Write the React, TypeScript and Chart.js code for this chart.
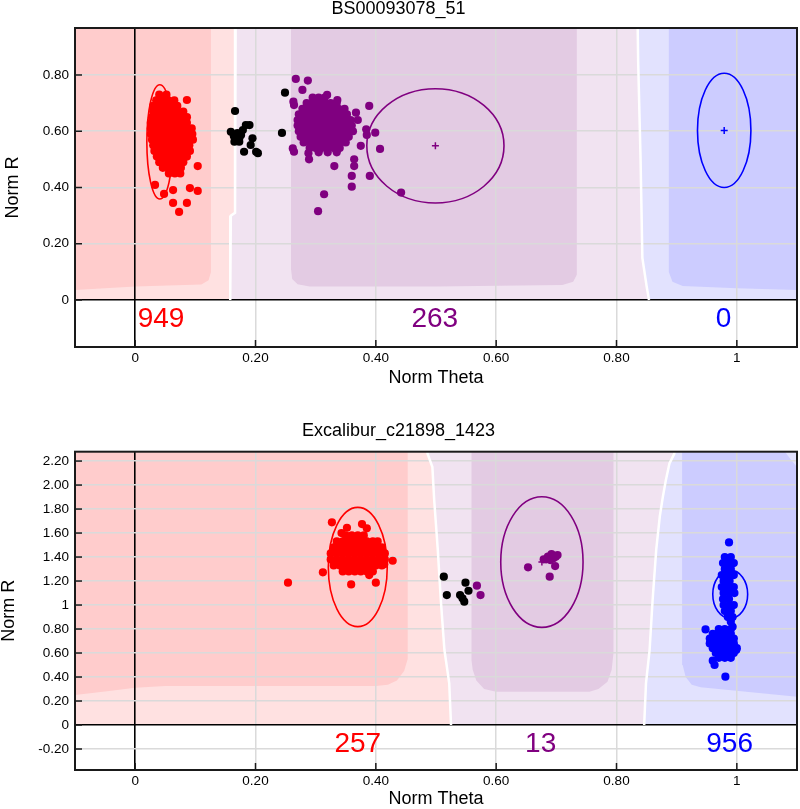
import React, { useEffect, useRef } from 'react';
import { Chart, registerables } from 'chart.js';

Chart.register(...registerables);

const FONT = "'Liberation Sans', Arial, Helvetica, sans-serif";
type P = [number, number];

// ---------- axes ----------
const X_TICKS = [0, 0.2, 0.4, 0.6, 0.8, 1];
const X_TICK_LABELS = ['0', '0.20', '0.40', '0.60', '0.80', '1'];
const TOP_Y_TICKS = [0, 0.2, 0.4, 0.6, 0.8];
const TOP_Y_TICK_LABELS = ['0', '0.20', '0.40', '0.60', '0.80'];
const BOT_Y_TICKS = [-0.2, 0, 0.2, 0.4, 0.6, 0.8, 1, 1.2, 1.4, 1.6, 1.8, 2.0, 2.2];
const BOT_Y_TICK_LABELS = ['-0.20', '0', '0.20', '0.40', '0.60', '0.80', '1', '1.20', '1.40', '1.60', '1.80', '2.00', '2.20'];

const CLUSTER_COLORS = ['#ff0000', '#800080', '#0000ff'];

// ---------- top panel: BS00093078_51 ----------
const TOP_TITLE = 'BS00093078_51';
const TOP_CLUSTER_X = [0.041, 0.499, 0.979];
const TOP_CLUSTER_Y = [0.562, 0.548, 0.603];
const TOP_CLUSTER_RX = [0.0216, 0.114, 0.0444];
const TOP_CLUSTER_RY = [0.203, 0.203, 0.203];
const TOP_COUNTS = [949, 263, 0];
const TOP_COUNT_X = [0.043, 0.498, 0.978];
const TOP_COUNT_Y = -0.07;

const TOP_RED: P[] = [
  [0.040, 0.73], [0.052, 0.73],
  [0.035, 0.71], [0.045, 0.71], [0.055, 0.71], [0.065, 0.71], [0.086, 0.711],
  [0.030, 0.69], [0.040, 0.69], [0.050, 0.69], [0.060, 0.69], [0.070, 0.69],
  [0.030, 0.67], [0.040, 0.67], [0.050, 0.67], [0.060, 0.67], [0.070, 0.67], [0.080, 0.67],
  [0.028, 0.65], [0.038, 0.65], [0.048, 0.65], [0.058, 0.65], [0.068, 0.65], [0.078, 0.65], [0.086, 0.65],
  [0.026, 0.63], [0.036, 0.63], [0.046, 0.63], [0.056, 0.63], [0.066, 0.63], [0.076, 0.63], [0.086, 0.63],
  [0.026, 0.61], [0.036, 0.61], [0.046, 0.61], [0.056, 0.61], [0.066, 0.61], [0.076, 0.61], [0.086, 0.61], [0.094, 0.61],
  [0.026, 0.59], [0.036, 0.59], [0.046, 0.59], [0.056, 0.59], [0.066, 0.59], [0.076, 0.59], [0.086, 0.59], [0.095, 0.59],
  [0.028, 0.57], [0.038, 0.57], [0.048, 0.57], [0.058, 0.57], [0.068, 0.57], [0.078, 0.57], [0.088, 0.57], [0.096, 0.57],
  [0.030, 0.55], [0.040, 0.55], [0.050, 0.55], [0.060, 0.55], [0.070, 0.55], [0.080, 0.55], [0.090, 0.55],
  [0.032, 0.53], [0.042, 0.53], [0.052, 0.53], [0.062, 0.53], [0.072, 0.53], [0.082, 0.53], [0.091, 0.53],
  [0.036, 0.51], [0.046, 0.51], [0.056, 0.51], [0.066, 0.51], [0.076, 0.51], [0.086, 0.51],
  [0.040, 0.49], [0.050, 0.49], [0.060, 0.49], [0.070, 0.49], [0.080, 0.49],
  [0.046, 0.47], [0.056, 0.47], [0.066, 0.47], [0.076, 0.47],
  [0.056, 0.45], [0.066, 0.45], [0.075, 0.45],
  [0.104, 0.476], [0.033, 0.409], [0.048, 0.377], [0.063, 0.391], [0.091, 0.398],
  [0.104, 0.388], [0.063, 0.345], [0.086, 0.345], [0.073, 0.313],
];

const TOP_BLACK: P[] = [
  [0.166, 0.672], [0.249, 0.737], [0.244, 0.594], [0.159, 0.598], [0.164, 0.583],
  [0.170, 0.593], [0.167, 0.569], [0.173, 0.575], [0.179, 0.604], [0.184, 0.622],
  [0.190, 0.622], [0.176, 0.587], [0.195, 0.575], [0.192, 0.551], [0.181, 0.527],
  [0.201, 0.527], [0.204, 0.522], [0.165, 0.563], [0.173, 0.563],
];

const TOP_PURPLE: P[] = [
  [0.295, 0.72], [0.305, 0.72], [0.315, 0.72],
  [0.285, 0.70], [0.295, 0.70], [0.305, 0.70], [0.315, 0.70], [0.325, 0.70], [0.335, 0.70],
  [0.278, 0.68], [0.288, 0.68], [0.298, 0.68], [0.308, 0.68], [0.318, 0.68], [0.328, 0.68], [0.338, 0.68], [0.348, 0.68],
  [0.272, 0.66], [0.282, 0.66], [0.292, 0.66], [0.302, 0.66], [0.312, 0.66], [0.322, 0.66], [0.332, 0.66], [0.342, 0.66], [0.352, 0.66],
  [0.270, 0.64], [0.280, 0.64], [0.290, 0.64], [0.300, 0.64], [0.310, 0.64], [0.320, 0.64], [0.330, 0.64], [0.340, 0.64], [0.350, 0.64], [0.358, 0.64],
  [0.270, 0.62], [0.280, 0.62], [0.290, 0.62], [0.300, 0.62], [0.310, 0.62], [0.320, 0.62], [0.330, 0.62], [0.340, 0.62], [0.350, 0.62], [0.360, 0.62],
  [0.272, 0.60], [0.282, 0.60], [0.292, 0.60], [0.302, 0.60], [0.312, 0.60], [0.322, 0.60], [0.332, 0.60], [0.342, 0.60], [0.352, 0.60], [0.362, 0.60],
  [0.275, 0.58], [0.285, 0.58], [0.295, 0.58], [0.305, 0.58], [0.315, 0.58], [0.325, 0.58], [0.335, 0.58], [0.345, 0.58], [0.355, 0.58],
  [0.280, 0.56], [0.290, 0.56], [0.300, 0.56], [0.310, 0.56], [0.320, 0.56], [0.330, 0.56], [0.340, 0.56], [0.350, 0.56],
  [0.290, 0.54], [0.300, 0.54], [0.310, 0.54], [0.320, 0.54], [0.330, 0.54], [0.340, 0.54],
  [0.305, 0.525], [0.320, 0.525], [0.335, 0.525],
  [0.267, 0.786], [0.287, 0.780], [0.278, 0.747], [0.263, 0.705], [0.264, 0.693],
  [0.319, 0.729], [0.336, 0.711], [0.389, 0.690], [0.367, 0.666], [0.370, 0.640],
  [0.384, 0.607], [0.399, 0.595], [0.385, 0.587], [0.407, 0.537], [0.375, 0.548],
  [0.262, 0.539], [0.264, 0.527], [0.288, 0.522], [0.289, 0.500], [0.331, 0.476],
  [0.364, 0.500], [0.364, 0.476], [0.360, 0.441], [0.390, 0.441], [0.360, 0.403],
  [0.314, 0.376], [0.304, 0.316], [0.442, 0.382],
];

const TOP_BLUE: P[] = [];

// background regions (Norm Theta, Norm R)
const TOP_B1: P[] = [[0.167, 1.0], [0.166, 0.31], [0.159, 0.30], [0.158, 0]];
const TOP_B2: P[] = [[0.835, 1.0], [0.836, 0.85], [0.840, 0.50], [0.843, 0.15], [0.850, 0.05], [0.854, 0]];
const TOP_LIGHT_PINK: P[] = [[-0.1, 0], [0.158, 0], [0.159, 0.30], [0.166, 0.31], [0.167, 1.0], [-0.1, 1.0]];
const TOP_LAVENDER: P[] = [
  [0.158, 0], [0.854, 0], [0.850, 0.05], [0.843, 0.15], [0.840, 0.50], [0.836, 0.85], [0.835, 1.0],
  [0.167, 1.0], [0.166, 0.31], [0.159, 0.30],
];
const TOP_LIGHT_BLUE: P[] = [
  [0.854, 0], [1.1, 0], [1.1, 1.0], [0.835, 1.0], [0.836, 0.85], [0.840, 0.50], [0.843, 0.15], [0.850, 0.05],
];
const TOP_DARK_PINK: P[] = [
  [-0.1, 1.0], [0.126, 1.0], [0.126, 0.10], [0.122, 0.07], [0.11, 0.055], [0.0, 0.048], [-0.1, 0.036],
];
const TOP_DARK_PURPLE: P[] = [
  [0.259, 1.0], [0.734, 1.0], [0.734, 0.09], [0.728, 0.065], [0.71, 0.053], [0.50, 0.048],
  [0.29, 0.048], [0.27, 0.056], [0.261, 0.075], [0.259, 0.11],
];
const TOP_DARK_BLUE: P[] = [
  [0.887, 1.0], [1.1, 1.0], [1.1, 0.036], [1.0, 0.042], [0.91, 0.05], [0.893, 0.065], [0.887, 0.10],
];

// ---------- bottom panel: Excalibur_c21898_1423 ----------
const BOT_TITLE = 'Excalibur_c21898_1423';
const BOT_CLUSTER_X = [0.370, 0.676, 0.989];
const BOT_CLUSTER_Y = [1.317, 1.358, 1.090];
const BOT_CLUSTER_RX = [0.049, 0.0684, 0.029];
const BOT_CLUSTER_RY = [0.497, 0.544, 0.201];
const BOT_COUNTS = [257, 13, 956];
const BOT_COUNT_X = [0.370, 0.674, 0.988];
const BOT_COUNT_Y = -0.16;

const BOT_RED: P[] = [
  [0.350, 1.58], [0.360, 1.58], [0.370, 1.58], [0.380, 1.58],
  [0.335, 1.53], [0.345, 1.53], [0.355, 1.53], [0.365, 1.53], [0.375, 1.53], [0.385, 1.53], [0.395, 1.53], [0.403, 1.53],
  [0.330, 1.48], [0.340, 1.48], [0.350, 1.48], [0.360, 1.48], [0.370, 1.48], [0.380, 1.48], [0.390, 1.48], [0.400, 1.48], [0.410, 1.48],
  [0.325, 1.43], [0.335, 1.43], [0.345, 1.43], [0.355, 1.43], [0.365, 1.43], [0.375, 1.43], [0.385, 1.43], [0.395, 1.43], [0.405, 1.43], [0.415, 1.43],
  [0.325, 1.38], [0.335, 1.38], [0.345, 1.38], [0.355, 1.38], [0.365, 1.38], [0.375, 1.38], [0.385, 1.38], [0.395, 1.38], [0.405, 1.38], [0.415, 1.38],
  [0.330, 1.33], [0.340, 1.33], [0.350, 1.33], [0.360, 1.33], [0.370, 1.33], [0.380, 1.33], [0.390, 1.33], [0.400, 1.33], [0.410, 1.33],
  [0.345, 1.28], [0.355, 1.28], [0.365, 1.28], [0.375, 1.28], [0.385, 1.28], [0.395, 1.28],
  [0.254, 1.186], [0.312, 1.273], [0.327, 1.689], [0.359, 1.172], [0.400, 1.186],
  [0.428, 1.369], [0.389, 1.25], [0.352, 1.644], [0.377, 1.675], [0.385, 1.639], [0.343, 1.60], [0.414, 1.34],
];

const BOT_BLACK: P[] = [
  [0.513, 1.236], [0.518, 1.083], [0.549, 1.186], [0.554, 1.119], [0.540, 1.083], [0.547, 1.028], [0.544, 1.056],
];

const BOT_PURPLE: P[] = [
  [0.568, 1.161], [0.574, 1.083], [0.653, 1.314], [0.679, 1.381], [0.686, 1.403], [0.692, 1.425],
  [0.699, 1.403], [0.702, 1.417], [0.698, 1.325], [0.689, 1.236], [0.683, 1.381], [0.690, 1.375], [0.695, 1.39],
];

const BOT_BLUE: P[] = [
  [0.980, 1.40], [0.990, 1.40],
  [0.977, 1.35], [0.987, 1.35], [0.995, 1.35],
  [0.980, 1.30], [0.990, 1.30],
  [0.975, 1.25], [0.985, 1.25], [0.995, 1.25],
  [0.978, 1.20], [0.988, 1.20],
  [0.975, 1.15], [0.985, 1.15], [0.995, 1.15],
  [0.978, 1.10], [0.988, 1.10], [0.996, 1.10],
  [0.977, 1.05], [0.987, 1.05],
  [0.978, 1.00], [0.988, 1.00], [0.995, 1.00],
  [0.980, 0.95], [0.990, 0.95],
  [0.985, 0.90], [0.993, 0.90], [0.990, 0.86],
  [0.970, 0.80], [0.980, 0.80], [0.990, 0.80],
  [0.960, 0.76], [0.970, 0.76], [0.980, 0.76], [0.990, 0.76],
  [0.955, 0.72], [0.965, 0.72], [0.975, 0.72], [0.985, 0.72], [0.995, 0.72],
  [0.955, 0.68], [0.965, 0.68], [0.975, 0.68], [0.985, 0.68], [0.995, 0.68],
  [0.960, 0.64], [0.970, 0.64], [0.980, 0.64], [0.990, 0.64], [1.000, 0.64],
  [0.965, 0.60], [0.975, 0.60], [0.985, 0.60], [0.995, 0.60],
  [0.970, 0.56], [0.980, 0.56], [0.990, 0.56],
  [0.987, 1.522], [0.948, 0.797], [0.960, 0.536], [0.963, 0.50], [0.981, 0.403], [0.993, 0.819], [0.999, 0.625],
];

const BOT_C1: P[] = [
  [0.484, 2.5], [0.486, 2.26], [0.494, 2.15], [0.497, 1.875], [0.503, 1.458], [0.508, 1.042], [0.514, 0.625], [0.522, 0.347], [0.525, 0],
];
const BOT_C2: P[] = [
  [0.90, 2.5], [0.896, 2.26], [0.888, 2.18], [0.882, 2.04], [0.877, 1.90], [0.872, 1.74], [0.866, 1.46],
  [0.860, 1.04], [0.855, 0.625], [0.849, 0.347], [0.846, 0],
];
const BOT_LIGHT_PINK: P[] = [[-0.1, 0], ...[...BOT_C1].reverse(), [-0.1, 2.5]];
const BOT_LAVENDER: P[] = [...BOT_C1, ...[...BOT_C2].reverse()];
const BOT_LIGHT_BLUE: P[] = [...BOT_C2, [1.1, 0], [1.1, 2.5]];
const BOT_DARK_PINK: P[] = [
  [-0.1, 2.5], [0.453, 2.5], [0.453, 0.55], [0.447, 0.45], [0.435, 0.37], [0.42, 0.335], [0.40, 0.325],
  [0.05, 0.325], [0.0, 0.31], [-0.05, 0.28], [-0.1, 0.25],
];
const BOT_DARK_PURPLE: P[] = [
  [0.559, 2.5], [0.795, 2.5], [0.795, 0.60], [0.792, 0.46], [0.785, 0.36], [0.77, 0.30], [0.755, 0.278],
  [0.60, 0.278], [0.58, 0.30], [0.567, 0.37], [0.561, 0.46], [0.559, 0.54],
];
const BOT_DARK_BLUE: P[] = [
  [0.909, 2.5], [1.078, 2.5], [1.078, 2.29], [1.09, 2.21], [1.1, 2.15], [1.1, 0.236], [0.94, 0.315],
  [0.925, 0.335], [0.915, 0.40], [0.91, 0.50], [0.909, 0.65],
];

const BG = {
  lightPink: '#ffe1e1',
  darkPink: '#ffcccc',
  lavender: '#f1e3f1',
  darkPurple: '#e3cbe3',
  lightBlue: '#e2e2fe',
  darkBlue: '#ccccff',
};

interface PanelSpec {
  title: string;
  titlePad: { top: number; bottom: number };
  yMin: number;
  yMax: number;
  yTicks: number[];
  yTickLabels: string[];
  yTitlePad: number;
  xAxisHeight: number;
  xTitlePadBottom: number;
  clusterX: number[];
  clusterY: number[];
  clusterRX: number[];
  clusterRY: number[];
  counts: number[];
  countX: number[];
  countY: number;
  red: P[];
  black: P[];
  purple: P[];
  blue: P[];
  lightRegions: [P[], string][];
  darkRegions: [P[], string][];
  boundaries: P[][];
}

const TOP_SPEC: PanelSpec = {
  title: TOP_TITLE,
  titlePad: { top: 0, bottom: 10 },
  yMin: -0.167,
  yMax: 0.967,
  yTicks: TOP_Y_TICKS,
  yTickLabels: TOP_Y_TICK_LABELS,
  yTitlePad: 4.5,
  xAxisHeight: 53,
  xTitlePadBottom: 13,
  clusterX: TOP_CLUSTER_X,
  clusterY: TOP_CLUSTER_Y,
  clusterRX: TOP_CLUSTER_RX,
  clusterRY: TOP_CLUSTER_RY,
  counts: TOP_COUNTS,
  countX: TOP_COUNT_X,
  countY: TOP_COUNT_Y,
  red: TOP_RED,
  black: TOP_BLACK,
  purple: TOP_PURPLE,
  blue: TOP_BLUE,
  lightRegions: [[TOP_LIGHT_PINK, BG.lightPink], [TOP_LAVENDER, BG.lavender], [TOP_LIGHT_BLUE, BG.lightBlue]],
  darkRegions: [[TOP_DARK_PINK, BG.darkPink], [TOP_DARK_PURPLE, BG.darkPurple], [TOP_DARK_BLUE, BG.darkBlue]],
  boundaries: [TOP_B1, TOP_B2],
};

const BOT_SPEC: PanelSpec = {
  title: BOT_TITLE,
  titlePad: { top: 22.5, bottom: 11.2 },
  yMin: -0.375,
  yMax: 2.278,
  yTicks: BOT_Y_TICKS,
  yTickLabels: BOT_Y_TICK_LABELS,
  yTitlePad: 0,
  xAxisHeight: 39,
  xTitlePadBottom: 1,
  clusterX: BOT_CLUSTER_X,
  clusterY: BOT_CLUSTER_Y,
  clusterRX: BOT_CLUSTER_RX,
  clusterRY: BOT_CLUSTER_RY,
  counts: BOT_COUNTS,
  countX: BOT_COUNT_X,
  countY: BOT_COUNT_Y,
  red: BOT_RED,
  black: BOT_BLACK,
  purple: BOT_PURPLE,
  blue: BOT_BLUE,
  lightRegions: [[BOT_LIGHT_PINK, BG.lightPink], [BOT_LAVENDER, BG.lavender], [BOT_LIGHT_BLUE, BG.lightBlue]],
  darkRegions: [[BOT_DARK_PINK, BG.darkPink], [BOT_DARK_PURPLE, BG.darkPurple], [BOT_DARK_BLUE, BG.darkBlue]],
  boundaries: [BOT_C1, BOT_C2],
};

const toXY = (arr: P[]) => arr.map(([x, y]) => ({ x, y }));

function makeOverlay(spec: PanelSpec) {
  return {
    id: 'clusterOverlay',
    afterDatasetsDraw(chart: any) {
      const { ctx, chartArea: a } = chart;
      const xs = chart.scales.x;
      const ys = chart.scales.y;
      ctx.save();
      ctx.beginPath();
      ctx.rect(a.left, a.top, a.right - a.left, a.bottom - a.top);
      ctx.clip();
      // ellipses
      spec.clusterX.forEach((cxv, i) => {
        const cx = xs.getPixelForValue(cxv);
        const cy = ys.getPixelForValue(spec.clusterY[i]);
        const rx = Math.abs(xs.getPixelForValue(cxv + spec.clusterRX[i]) - cx);
        const ry = Math.abs(ys.getPixelForValue(spec.clusterY[i] + spec.clusterRY[i]) - cy);
        ctx.beginPath();
        ctx.ellipse(cx, cy, rx, ry, 0, 0, Math.PI * 2);
        ctx.strokeStyle = CLUSTER_COLORS[i];
        ctx.lineWidth = 1.6;
        ctx.stroke();
      });
      // counts
      ctx.font = `28px ${FONT}`;
      ctx.textAlign = 'center';
      ctx.textBaseline = 'middle';
      spec.counts.forEach((n, i) => {
        ctx.fillStyle = CLUSTER_COLORS[i];
        ctx.fillText(String(n), xs.getPixelForValue(spec.countX[i]), ys.getPixelForValue(spec.countY));
      });
      ctx.restore();
      // frame and inner tick marks
      ctx.save();
      ctx.strokeStyle = '#1a1a1a';
      ctx.lineWidth = 2;
      ctx.strokeRect(a.left, a.top, a.right - a.left, a.bottom - a.top);
      ctx.lineWidth = 1.5;
      for (const t of xs.ticks) {
        const px = xs.getPixelForValue(t.value);
        ctx.beginPath();
        ctx.moveTo(px, a.bottom);
        ctx.lineTo(px, a.bottom - 7);
        ctx.stroke();
      }
      for (const t of ys.ticks) {
        const py = ys.getPixelForValue(t.value);
        ctx.beginPath();
        ctx.moveTo(a.left, py);
        ctx.lineTo(a.left + 7, py);
        ctx.stroke();
      }
      ctx.restore();
    },
  };
}

function buildConfig(spec: PanelSpec): any {
  const datasets: any[] = [];
  spec.lightRegions.forEach(([pts, color]) => {
    datasets.push({
      type: 'line', data: toXY(pts), backgroundColor: color, borderWidth: 0,
      pointRadius: 0, fill: 'shape', tension: 0, order: 120,
    });
  });
  spec.darkRegions.forEach(([pts, color]) => {
    datasets.push({
      type: 'line', data: toXY(pts), backgroundColor: color, borderWidth: 0,
      pointRadius: 0, fill: 'shape', tension: 0, order: 110,
    });
  });
  spec.boundaries.forEach((pts) => {
    datasets.push({
      type: 'line', data: toXY(pts), borderColor: '#ffffff', borderWidth: 2.5,
      pointRadius: 0, fill: false, tension: 0, order: 50,
    });
  });
  datasets.push({
    type: 'scatter',
    data: spec.clusterX.map((x, i) => ({ x, y: spec.clusterY[i] })),
    pointStyle: 'cross', pointRadius: 3.5, borderWidth: 1.5,
    borderColor: CLUSTER_COLORS, backgroundColor: CLUSTER_COLORS, order: 5,
  });
  const groups: [P[], string][] = [
    [spec.black, '#000000'],
    [spec.purple, '#800080'],
    [spec.red, '#ff0000'],
    [spec.blue, '#0000ff'],
  ];
  groups.forEach(([pts, color]) => {
    datasets.push({
      type: 'scatter', data: toXY(pts), backgroundColor: color, borderWidth: 0,
      pointRadius: 4.1, order: 1,
    });
  });

  const zero = (c: any) => c.tick && Math.abs(c.tick.value) < 1e-9;

  return {
    type: 'scatter',
    data: { datasets },
    plugins: [makeOverlay(spec)],
    options: {
      responsive: false,
      animation: false,
      events: [],
      layout: { padding: { left: 0, right: 3, top: 0, bottom: 0 }, autoPadding: false },
      plugins: {
        legend: { display: false },
        tooltip: { enabled: false },
        filler: { drawTime: 'beforeDraw' },
        title: {
          display: true,
          text: spec.title,
          color: '#000',
          font: { family: FONT, size: 18, weight: 'normal', lineHeight: 1 },
          padding: spec.titlePad,
        },
      },
      scales: {
        x: {
          type: 'linear',
          min: -0.1,
          max: 1.1,
          afterBuildTicks: (s: any) => { s.ticks = X_TICKS.map((v) => ({ value: v })); },
          afterFit: (s: any) => { s.height = spec.xAxisHeight; },
          ticks: {
            autoSkip: false, maxRotation: 0, padding: 3, color: '#000',
            font: { family: FONT, size: 13.5 },
            callback: (_v: any, i: number) => X_TICK_LABELS[i],
          },
          grid: {
            drawTicks: false,
            color: (c: any) => (zero(c) ? '#000000' : '#dadada'),
            lineWidth: (c: any) => (zero(c) ? 1.6 : 1.5),
          },
          border: { display: false },
          title: {
            display: true, text: 'Norm Theta', color: '#000',
            font: { family: FONT, size: 18, lineHeight: 1 },
            padding: { top: 0, bottom: spec.xTitlePadBottom },
          },
        },
        y: {
          type: 'linear',
          min: spec.yMin,
          max: spec.yMax,
          afterBuildTicks: (s: any) => { s.ticks = spec.yTicks.map((v) => ({ value: v })); },
          afterFit: (s: any) => { s.width = 75; },
          ticks: {
            autoSkip: false, padding: 6, color: '#000',
            font: { family: FONT, size: 13.5 },
            callback: (_v: any, i: number) => spec.yTickLabels[i],
          },
          grid: {
            drawTicks: false,
            color: (c: any) => (zero(c) ? '#000000' : '#dadada'),
            lineWidth: (c: any) => (zero(c) ? 1.6 : 1.5),
          },
          border: { display: false },
          title: {
            display: true, text: 'Norm R', color: '#000',
            font: { family: FONT, size: 18, lineHeight: 1 },
            padding: { top: spec.yTitlePad, bottom: 0 },
          },
        },
      },
    },
  };
}

function Panel({ spec, height }: { spec: PanelSpec; height: number }) {
  const ref = useRef<HTMLCanvasElement | null>(null);
  useEffect(() => {
    if (!ref.current) return;
    const chart = new Chart(ref.current, buildConfig(spec));
    return () => chart.destroy();
  }, [spec]);
  return <canvas ref={ref} width={800} height={height} style={{ display: 'block', width: 800, height }} />;
}

export default function App() {
  return (
    <div style={{ position: 'absolute', left: 0, top: 0, width: 800, height: 809, background: '#ffffff' }}>
      <Panel spec={TOP_SPEC} height={400} />
      <Panel spec={BOT_SPEC} height={409} />
    </div>
  );
}
